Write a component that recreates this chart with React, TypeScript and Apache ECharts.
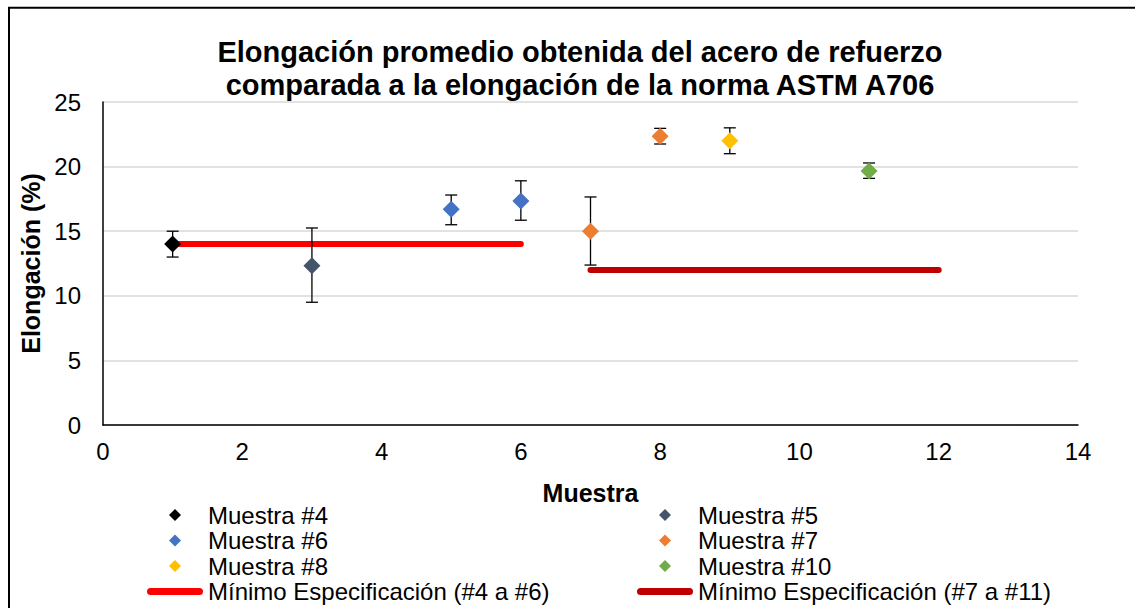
import React, { useEffect, useRef } from "react";
import * as echarts from "echarts";

const titleLines = [
  "Elongación promedio obtenida del acero de refuerzo",
  "comparada a la elongación de la norma ASTM A706",
];
const xAxisName = "Muestra";
const yAxisName = "Elongación (%)";

const sampleNames = ["Muestra #4", "Muestra #5", "Muestra #6", "Muestra #7", "Muestra #8", "Muestra #10"];
const sampleColors = ["#000000", "#44546a", "#4472c4", "#ed7d31", "#ffc000", "#70ad47"];
const sampleX = [[1], [3], [5, 6], [7, 8], [9], [11]];
const sampleMean = [[14.0], [12.33], [16.7, 17.34], [15.0, 22.34], [22.0], [19.66]];
const errLow = [[13.0], [9.5], [15.5, 15.85], [12.38, 21.75], [21.0], [19.09]];
const errHigh = [[15.0], [15.25], [17.8, 18.9], [17.65, 22.96], [23.0], [20.28]];

const specNames = ["Mínimo Especificación (#4 a #6)", "Mínimo Especificación (#7 a #11)"];
const specColors = ["#ff0000", "#c00000"];
const specX = [[1, 6], [7, 12]];
const specY = [14, 12];

const FONT = "'Liberation Sans', Arial, sans-serif";
const barIcon = "path://M3.5,0L52.5,0A3.5,3.5 0 0 1 52.5,7L3.5,7A3.5,3.5 0 0 1 3.5,0Z";
const diamondIcon = "path://M6,0L12,6L6,12L0,6Z";

export default function App() {
  const ref = useRef<HTMLDivElement>(null);
  useEffect(() => {
    if (!ref.current) return;
    const chart = echarts.init(ref.current, null, { renderer: "svg" });

    const errData: number[][] = [];
    sampleX.forEach((xs, i) => xs.forEach((x, j) => errData.push([x, errLow[i][j], errHigh[i][j]])));

    const series: any[] = [];
    specNames.forEach((name, i) => {
      series.push({
        name,
        type: "line",
        data: specX[i].map((x) => [x, specY[i]]),
        symbol: "none",
        lineStyle: { color: specColors[i], width: 6, cap: "round" },
        itemStyle: { color: specColors[i] },
        z: 2,
      });
    });
    series.push({
      name: "err",
      type: "custom",
      data: errData,
      z: 3,
      renderItem: (params: any, api: any) => {
        const x = api.value(0);
        const lo = api.coord([x, api.value(1)]);
        const hi = api.coord([x, api.value(2)]);
        const hw = 6;
        const style = { stroke: "#000", lineWidth: 1.3 };
        return {
          type: "group",
          children: [
            { type: "line", shape: { x1: lo[0], y1: lo[1], x2: hi[0], y2: hi[1] }, style },
            { type: "line", shape: { x1: lo[0] - hw, y1: lo[1], x2: lo[0] + hw, y2: lo[1] }, style },
            { type: "line", shape: { x1: hi[0] - hw, y1: hi[1], x2: hi[0] + hw, y2: hi[1] }, style },
          ],
        };
      },
    });
    sampleNames.forEach((name, i) => {
      series.push({
        name,
        type: "scatter",
        symbol: "diamond",
        symbolSize: 17,
        data: sampleX[i].map((x, j) => [x, sampleMean[i][j]]),
        itemStyle: { color: sampleColors[i], opacity: 1 },
        z: 4,
      });
    });

    const legendBase = {
      orient: "vertical",
      top: 503,
      padding: 0,
      itemWidth: 56,
      itemHeight: 12,
      itemGap: 1.5,
      symbolKeepAspect: true,
      selectedMode: false,
      textStyle: { fontSize: 24, color: "#000", fontFamily: FONT },
    };
    const mkItem = (name: string) =>
      specNames.includes(name) ? { name, icon: barIcon } : { name, icon: diamondIcon };

    chart.setOption({
      animation: false,
      backgroundColor: "#fff",
      textStyle: { fontFamily: FONT },
      title: {
        text: titleLines.join("\n"),
        left: 575,
        top: 30,
        textAlign: "center",
        textStyle: { fontSize: 29, fontWeight: "bold", color: "#000", lineHeight: 33, fontFamily: FONT },
      },
      grid: { left: 103, right: 57, top: 102, bottom: 183, containLabel: false },
      xAxis: {
        type: "value",
        min: 0,
        max: 14,
        interval: 2,
        name: xAxisName,
        nameLocation: "middle",
        nameGap: 55,
        nameTextStyle: { fontSize: 25, fontWeight: "bold", color: "#000", fontFamily: FONT },
        axisLine: { show: true, lineStyle: { color: "#000", width: 1.5 } },
        axisTick: { show: false },
        splitLine: { show: false },
        axisLabel: { fontSize: 24, color: "#000", margin: 14, fontFamily: FONT },
      },
      yAxis: {
        type: "value",
        min: 0,
        max: 25,
        interval: 5,
        name: yAxisName,
        nameLocation: "middle",
        nameGap: 60,
        nameTextStyle: { fontSize: 25, fontWeight: "bold", color: "#000", fontFamily: FONT },
        axisLine: { show: true, lineStyle: { color: "#000", width: 1.5 } },
        axisTick: { show: false },
        splitLine: { show: true, lineStyle: { color: "#d9d9d9", width: 1.5 } },
        axisLabel: { fontSize: 24, color: "#000", margin: 22, fontFamily: FONT },
      },
      legend: [
        { ...legendBase, left: 147, data: [sampleNames[0], sampleNames[2], sampleNames[4], specNames[0]].map(mkItem) },
        { ...legendBase, left: 637, data: [sampleNames[1], sampleNames[3], sampleNames[5], specNames[1]].map(mkItem) },
      ],
      graphic: [
        {
          type: "rect",
          shape: { x: 9, y: 7.7, width: 1300, height: 800 },
          style: { fill: "none", stroke: "#000", lineWidth: 2 },
          silent: true,
        },
      ],
      series,
    });
    return () => chart.dispose();
  }, []);
  return (
    <div
      ref={ref}
      style={{ position: "absolute", left: 0, top: 0, width: 1135, height: 608 }}
    />
  );
}
